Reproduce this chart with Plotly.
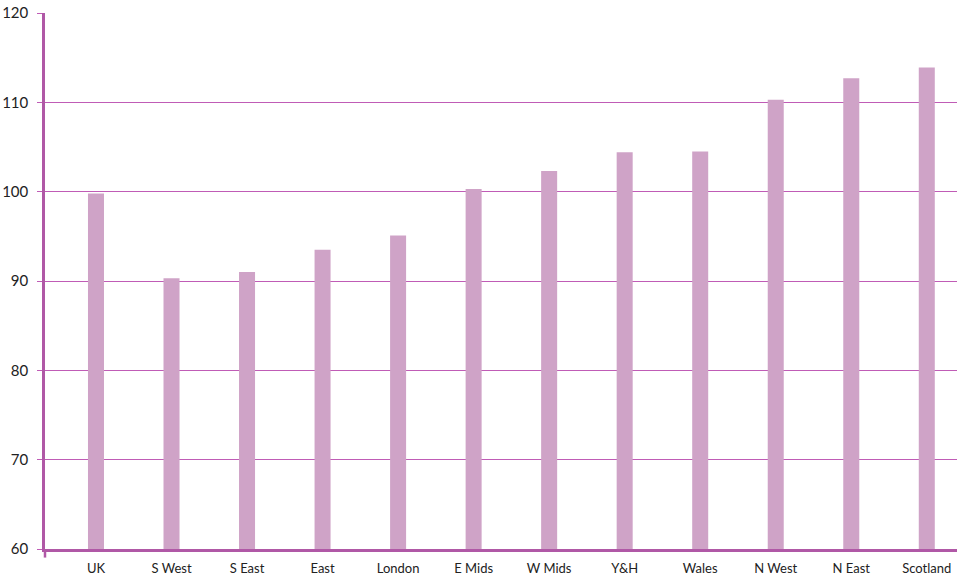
import plotly.graph_objects as go

regions = ["UK", "S West", "S East", "East", "London", "E Mids", "W Mids",
           "Y&H", "Wales", "N West", "N East", "Scotland"]
values = [99.8, 90.3, 91.0, 93.5, 95.1, 100.3, 102.3, 104.4, 104.5, 110.3, 112.7, 113.9]
y_ticks = [60, 70, 80, 90, 100, 110, 120]

axis_col = "#b058a6"
grid_col = "#c05cb6"
bar_col = "#cfa3c7"

fig = go.Figure(go.Bar(
    x=list(range(len(regions))), y=values,
    marker=dict(color=bar_col, line=dict(width=0)),
    width=0.212,
))

fig.update_layout(
    width=957, height=580,
    margin=dict(l=45, r=0, t=13, b=31),
    plot_bgcolor="white", paper_bgcolor="white",
    showlegend=False,
    font=dict(family="Lato, 'Open Sans', sans-serif", size=13, color="#222"),
    shapes=[dict(type="line", xref="paper", yref="paper", x0=0, x1=0, y0=0, y1=-0.016,
                 line=dict(color=axis_col, width=2.5))],
)
fig.update_xaxes(
    range=[-0.675, 11.4],
    tickmode="array", tickvals=list(range(len(regions))), ticktext=regions,
    showline=True, linecolor=axis_col, linewidth=3,
    showgrid=False, ticks="", ticklabelstandoff=5,
    tickfont=dict(size=13),
    zeroline=False,
)
fig.update_yaxes(
    range=[60, 120],
    tickmode="array", tickvals=y_ticks,
    showline=True, linecolor=axis_col, linewidth=2.5,
    showgrid=True, gridcolor=grid_col, gridwidth=1.2,
    ticks="outside", ticklen=5, tickcolor=grid_col, tickwidth=1.2,
    ticklabelstandoff=6,
    tickfont=dict(size=15),
    zeroline=False,
)

fig.write_html("out.html")
